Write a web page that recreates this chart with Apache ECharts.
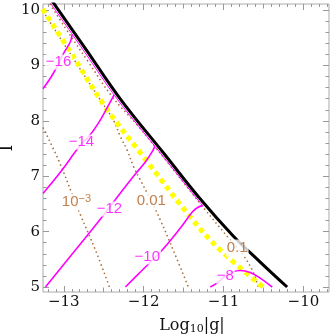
<!DOCTYPE html>
<html><head><meta charset="utf-8">
<script src="https://cdn.jsdelivr.net/npm/echarts@6/dist/echarts.min.js"></script>
<style>html,body{margin:0;padding:0;background:#fff}#c{width:332px;height:335px}</style>
</head><body><div id="c"></div>
<script>
// ---- data (x = log10|g|, y = l) ----
const xTickLabels = [-13, -12, -11, -10];
const yTickLabels = [5, 6, 7, 8, 9, 10];
const boundary = [[-13.154,10.181],[-12.716,9.278],[-12.291,8.394],[-11.741,7.401],[-11.291,6.588],[-10.879,5.921],[-10.541,5.451],[-10.204,5.0]];
const boundaryEdge = [[-13.194,10.181],[-12.756,9.278],[-12.331,8.394],[-11.781,7.401],[-11.331,6.588],[-11.26,6.47]];
const yellowLine = [[-13.266,10.018],[-12.916,9.242],[-12.479,8.249],[-11.941,7.238],[-11.416,6.264],[-11.041,5.668],[-10.504,5.0]];
const cm16 = [[-13.26,8.58],[-13.13,8.86],[-12.99,9.25],[-12.92,9.42],[-12.895,9.56]];
const cm14 = [[-13.26,6.69],[-13.041,7.076],[-12.791,7.563],[-12.691,7.708],[-12.566,7.96],[-12.46,8.231],[-12.37,8.47]];
const cm12 = [[-13.229,5.0],[-12.854,5.668],[-12.541,6.227],[-12.291,6.697],[-12.104,7.040],[-11.979,7.256],[-11.891,7.45],[-11.86,7.54]];
const cm10 = [[-12.229,5.0],[-12.041,5.271],[-11.791,5.632],[-11.541,6.065],[-11.391,6.354],[-11.32,6.44],[-11.26,6.47]];
const cm8 = [[-11.166,5.0],[-11.066,5.09],[-10.979,5.199],[-10.891,5.271],[-10.791,5.298],[-10.666,5.262],[-10.541,5.162],[-10.391,5.0]];
const cb3 = [[-13.26,7.88],[-13.066,7.292],[-12.891,6.661],[-12.791,6.30],[-12.604,5.668],[-12.428,5.0]];
const cb2 = [[-13.26,9.98],[-12.916,9.206],[-12.541,8.375],[-12.379,8.014],[-12.291,7.713],[-12.2075,7.473],[-12.125,7.171],[-12.041,6.931],[-11.904,6.552],[-11.791,6.209],[-11.62,5.632],[-11.441,5.0]];
const cb1 = [[-13.204,10.18],[-12.979,9.675],[-12.691,9.061],[-12.391,8.430],[-12.08,7.924],[-11.724,7.292],[-11.247,6.426],[-10.916,5.848],[-10.829,5.704],[-10.754,5.578],[-10.629,5.271],[-10.566,5.0]];
const magentaLabels = [[-13.066,9.061,'−16'],[-12.779,7.617,'−14'],[-12.429,6.408,'−12'],[-11.954,5.542,'−10'],[-10.979,5.199,'−8']];
const brownLabels = [[-12.841,6.534,'{b|10}{s|−3}'],[-11.904,6.552,'{b|0.01}'],[-10.829,5.704,'{b|0.1}']];

const XMIN = -13.26, XMAX = -9.68, YMIN = 4.91, YMAX = 10.11;
function range(a, b, step) { const r = []; for (let v = a; v <= b + 1e-9; v += step) r.push(Math.round(v * 100) / 100); return r; }
const isInt = v => Math.abs(v - Math.round(v)) < 1e-6;
const isHalf = v => Math.abs(v * 2 - Math.round(v * 2)) < 1e-6 && !isInt(v);
const xMid = range(-13.5, -9.5, 0.5).filter(v => isHalf(v) && v > XMIN && v < XMAX);
const xMinor = range(-13.2, -9.7, 0.1).filter(v => !isInt(v) && !isHalf(v) && v > XMIN && v < XMAX);
const yMinor = range(5.2, 9.8, 0.2).filter(v => !isInt(v));

const tickColor = '#999';
const serif = 'DejaVu Serif';
const sans = 'Liberation Sans';
const fmt = v => (v < 0 ? '−' + Math.abs(v) : String(v));

function xa(pos, ticks, len, main) {
  const o = { type: 'value', position: pos, min: XMIN, max: XMAX, axisLine: { show: false, onZero: false },
    splitLine: { show: false },
    axisTick: { show: true, inside: true, length: len, customValues: ticks, lineStyle: { color: tickColor, width: 1 } },
    axisLabel: { show: false } };
  if (main) {
    o.axisLabel = { show: true, customValues: ticks, formatter: fmt, fontFamily: serif, fontSize: 15, color: '#111', margin: 3 };
    o.name = '{a|Log}{s|10}{a||g|}';
    o.nameLocation = 'middle';
    o.nameGap = 25;
    o.nameTextStyle = { rich: { a: { fontFamily: serif, fontSize: 16, color: '#111' }, s: { fontFamily: serif, fontSize: 11, color: '#111', verticalAlign: 'bottom', padding: [7,0,0,0] } }, padding: [0,0,0,12] };
  }
  return o;
}
function ya(pos, ticks, len, main) {
  const o = { type: 'value', position: pos, min: YMIN, max: YMAX, axisLine: { show: false, onZero: false },
    splitLine: { show: false },
    axisTick: { show: true, inside: true, length: len, customValues: ticks, lineStyle: { color: tickColor, width: 1 } },
    axisLabel: { show: false } };
  if (main) {
    o.axisLabel = { show: true, customValues: ticks, formatter: fmt, fontFamily: serif, fontSize: 15, color: '#111', margin: 3 };
    o.name = 'l';
    o.nameLocation = 'middle';
    o.nameGap = 27;
    o.nameMoveOverlap = false;
    o.nameTextStyle = { fontFamily: serif, fontSize: 18, color: '#111' };
  }
  return o;
}

function line(data, color, width, type, z) {
  return { type: 'line', data: data, xAxisIndex: 0, yAxisIndex: 0, showSymbol: false, symbol: 'none', smooth: 0.4,
    clip: true, silent: true, z: z, lineStyle: { color: color, width: width, type: type, cap: 'butt' } };
}
const brown = '#a86a35', magenta = '#ff00ff';
const chart = echarts.init(document.getElementById('c'), null, { renderer: 'canvas' });
chart.setOption({
  animation: false,
  backgroundColor: '#fff',
  grid: { left: 43, right: 3, top: 4, bottom: 43, show: true, borderColor: '#aaa', borderWidth: 1, backgroundColor: 'transparent',
          containLabel: false, outerBoundsMode: 'none' },
  xAxis: [xa('bottom', xTickLabels, 6, true), xa('bottom', xMid, 4.5, false), xa('bottom', xMinor, 3, false),
          xa('top', xTickLabels, 6, false), xa('top', xMid, 4.5, false), xa('top', xMinor, 3, false)],
  yAxis: [ya('left', yTickLabels, 6, true), ya('left', yMinor, 3.5, false),
          ya('right', yTickLabels, 6, false), ya('right', yMinor, 3.5, false)],
  series: [
    line(cb3, brown, 1.5, [1.5, 3], 2),
    line(cb2, brown, 1.5, [1.5, 3], 2),
    line(cb1, brown, 1.5, [1.5, 3], 2),
    line(yellowLine, '#ffff00', 5, [5, 4], 3),
    line(cm16, magenta, 1.6, 'solid', 4),
    line(cm14, magenta, 1.6, 'solid', 4),
    line(cm12, magenta, 1.6, 'solid', 4),
    line(cm10, magenta, 1.6, 'solid', 4),
    line(cm8, magenta, 1.6, 'solid', 4),
    line(boundaryEdge, magenta, 1, 'solid', 4),
    line(boundary, '#000', 3, 'solid', 5),
    { type: 'scatter', xAxisIndex: 0, yAxisIndex: 0, symbolSize: 0, silent: true, z: 10,
      data: magentaLabels.map(d => ({ value: [d[0], d[1]], name: d[2] })),
      label: { show: true, position: 'inside', formatter: p => p.name, color: magenta, fontFamily: sans, fontSize: 15,
               backgroundColor: '#fff', padding: [0, 1] } },
    { type: 'scatter', xAxisIndex: 0, yAxisIndex: 0, symbolSize: 0, silent: true, z: 10,
      data: brownLabels.map(d => ({ value: [d[0], d[1]], name: d[2] })),
      label: { show: true, position: 'inside', formatter: p => p.name, backgroundColor: '#fff', padding: [0, 1],
               rich: { b: { color: '#b06020', fontFamily: sans, fontSize: 15, lineHeight: 17 },
                       s: { color: '#b06020', fontFamily: sans, fontSize: 11, verticalAlign: 'top', lineHeight: 11 } } } }
  ]
});
</script></body></html>
